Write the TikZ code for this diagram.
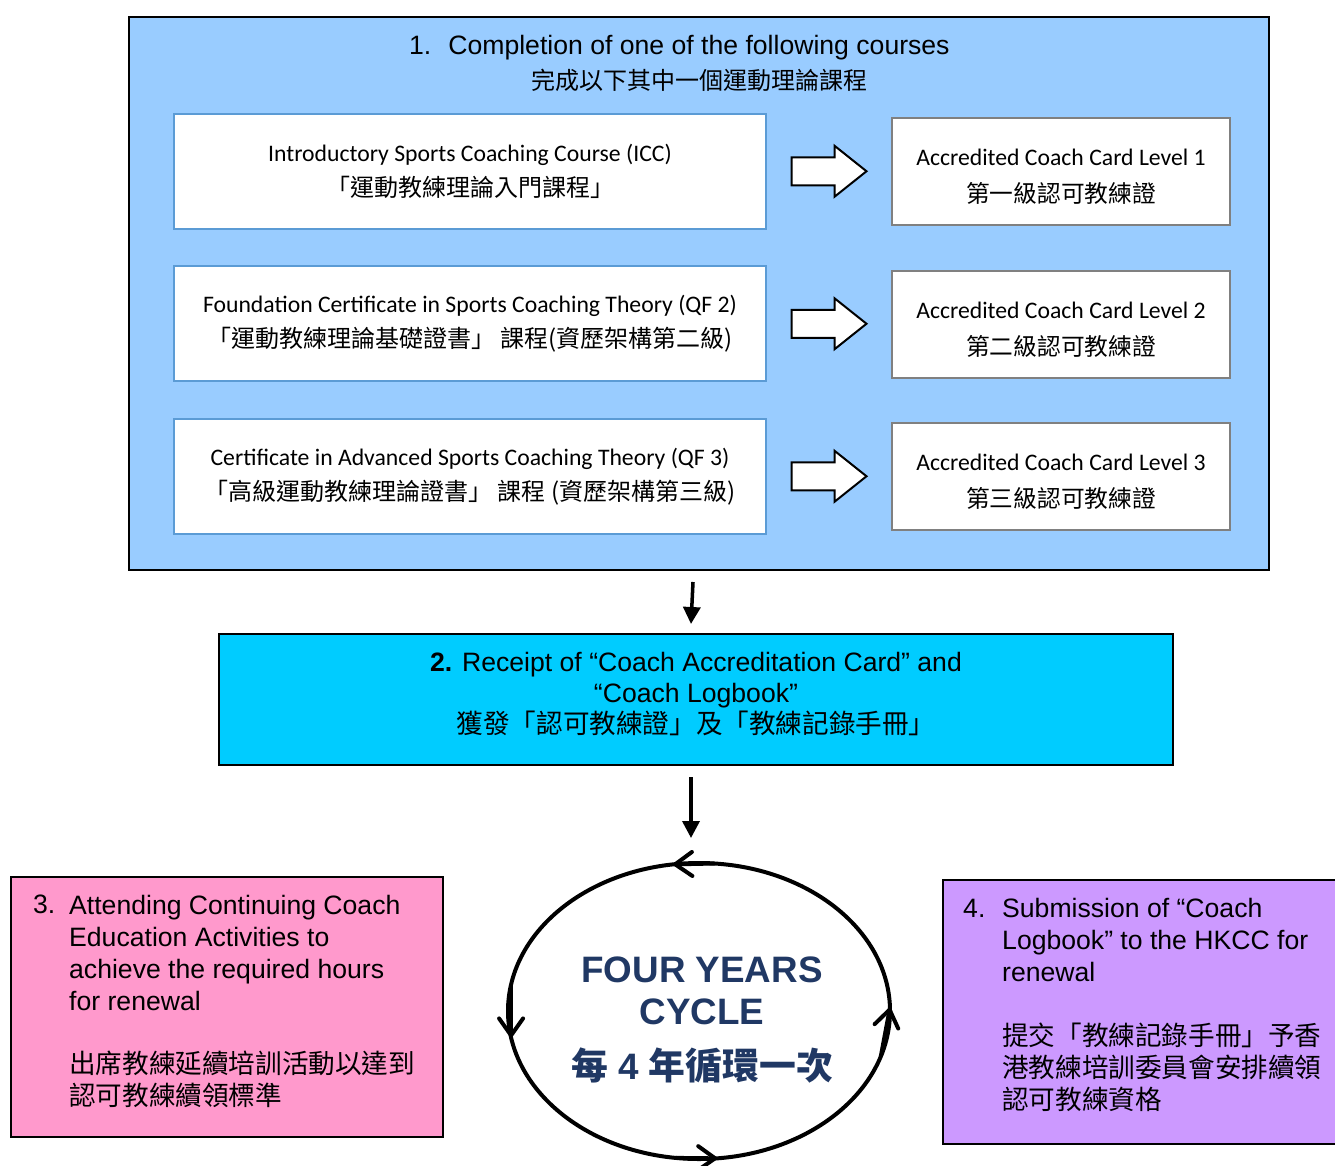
\documentclass[tikz,border=0pt]{standalone}
\usepackage{fontspec}
\setmainfont{Liberation Sans}
\newfontfamily\cali{Carlito}
\newfontfamily\cjk{Noto Sans CJK TC}
\usetikzlibrary{shapes.geometric,arrows.meta,calc}

\definecolor{stageone}{HTML}{99CCFF}
\definecolor{stagetwo}{HTML}{00CCFF}
\definecolor{stagethree}{HTML}{FF99CC}
\definecolor{stagefour}{HTML}{CC99FF}
\definecolor{courseline}{HTML}{5B9BD5}
\definecolor{cardline}{HTML}{808080}
\definecolor{cyclenavy}{HTML}{203864}

\newcommand{\cardstrut}{\rule{0pt}{28pt}}

\tikzset{
	stage/.style={draw=black,line width=2pt,inner sep=0pt},
	course/.style={draw=courseline,fill=white,line width=2pt,minimum width=592pt,minimum height=115pt,
		inner sep=0pt,align=center,font=\cali\fontsize{23.7}{35}\selectfont},
	card/.style={draw=cardline,fill=white,line width=2pt,minimum width=338pt,minimum height=107pt,
		inner sep=0pt,align=center,font=\cali\fontsize{23.7}{37}\selectfont},
	txt/.style={inner sep=0pt,font=\fontsize{26.6}{32}\selectfont},
	flow/.style={black,line width=3.5pt,-{Triangle[length=17pt,width=17pt]}},
	cycarrow/.style={black,line width=4pt,-{Straight Barb[length=17pt,width=24pt,line width=4pt,round]}}
}
\tikzset{
	hollowarrow/.pic={
        code={
\draw[black,line width=2pt,fill=white,line join=miter](-37.5,-14)--(5.5,-14)--(5.5,-25.5)--(37.5,0)--(5.5,25.5)--(5.5,14)--(-37.5,14)--cycle;
							}
	}
}

\begin{document}
\begin{tikzpicture}[x=1pt,y=-1pt]
\useasboundingbox (0,0) rectangle (1335,1165);
\clip (0,0) rectangle (1335,1165);
%Stufe 1
\node[stage,fill=stageone,minimum width=1140pt,minimum height=553pt] (courses) at (699,293.5) {};
\node[txt,align=center] (coursestitle) at (699,63) {\llap{1.\hspace{17pt}}Completion of one of the following courses\\[3pt]{\cjk\fontsize{24}{32}\selectfont 完成以下其中一個運動理論課程}};
\node[course] (icc) at (470,171.5) {Introductory Sports Coaching Course (ICC)\\{\cjk\fontsize{24}{35}\selectfont 「運動教練理論入門課程」}};
\node[course] (qftwo) at (470,323.5) {Foundation Certificate in Sports Coaching Theory (QF 2)\\{\cjk\fontsize{24}{35}\selectfont 「運動教練理論基礎證書」 課程(資歷架構第二級)}};
\node[course] (qfthree) at (470,476.5) {Certificate in Advanced Sports Coaching Theory (QF 3)\\{\cjk\fontsize{24}{35}\selectfont 「高級運動教練理論證書」 課程 (資歷架構第三級)}};
\node[card] (levelone) at (1061,171) {\cardstrut Accredited Coach Card Level 1\\{\cjk 第一級認可教練證}};
\node[card] (leveltwo) at (1061,324) {\cardstrut Accredited Coach Card Level 2\\{\cjk 第二級認可教練證}};
\node[card] (levelthree) at (1061,476) {\cardstrut Accredited Coach Card Level 3\\{\cjk 第三級認可教練證}};
\path ($(icc.east)!0.5!(levelone.west)$) pic {hollowarrow};
\path ($(qftwo.east)!0.5!(leveltwo.west)$) pic {hollowarrow};
\path ($(qfthree.east)!0.5!(levelthree.west)$) pic {hollowarrow};
%Stufe 2
\node[stage,fill=stagetwo,minimum width=954pt,minimum height=131pt] (receipt) at (696,699.5) {};
\node[txt,align=center,font=\fontsize{26.6}{31}\selectfont] (receipttxt) at (696,694) {\textbf{2.} Receipt of “Coach Accreditation Card” and\\“Coach Logbook”\\{\cjk 獲發「認可教練證」及「教練記錄手冊」}};
\draw[flow] ([xshift=-6pt,yshift=-11pt]courses.south) -- ([xshift=-5pt,yshift=9pt]receipt.north);
%Kreislauf
\node[ellipse,draw=black,line width=4pt,minimum width=382pt,minimum height=296pt,inner sep=0pt,outer sep=0pt] (cycle) at (699,1011) {};
\draw[cycarrow] (cycle.84) -- (cycle.100);
\draw[cycarrow] (cycle.172) -- (cycle.188);
\draw[cycarrow] (cycle.261) -- (cycle.277);
\draw[cycarrow] (cycle.-14) -- (cycle.1);
\node[align=center,text=cyclenavy,inner sep=0pt,font=\bfseries\fontsize{36.8}{42}\selectfont] (cycletxt) at (702,1020) {FOUR YEARS\\CYCLE\\[13pt]{\cjk 每} 4 {\cjk 年循環一次}};
\draw[flow] ([xshift=-5pt,yshift=-11pt]receipt.south) -- ([xshift=-8pt,yshift=25pt]cycle.north);
%Stufe 3
\node[stage,fill=stagethree,minimum width=432pt,minimum height=260pt] (renew) at (227,1007) {};
\node[txt,anchor=north west] (renewno) at (33,895) {3.};
\node[txt,align=left,anchor=north west] (renewtxt) at (69,895) {Attending Continuing Coach\\Education Activities to\\achieve the required hours\\for renewal\\[31pt]{\cjk 出席教練延續培訓活動以達到}\\{\cjk 認可教練續領標準}};
%Stufe 4
\node[stage,fill=stagefour,minimum width=402pt,minimum height=264pt] (submit) at (1144,1012) {};
\node[txt,anchor=north west] (submitno) at (963,898.5) {4.};
\node[txt,align=left,anchor=north west] (submittxt) at (1002,898.5) {Submission of “Coach\\Logbook” to the HKCC for\\renewal\\[32pt]{\cjk 提交「教練記錄手冊」予香}\\{\cjk 港教練培訓委員會安排續領}\\{\cjk 認可教練資格}};
\end{tikzpicture}
\end{document}
